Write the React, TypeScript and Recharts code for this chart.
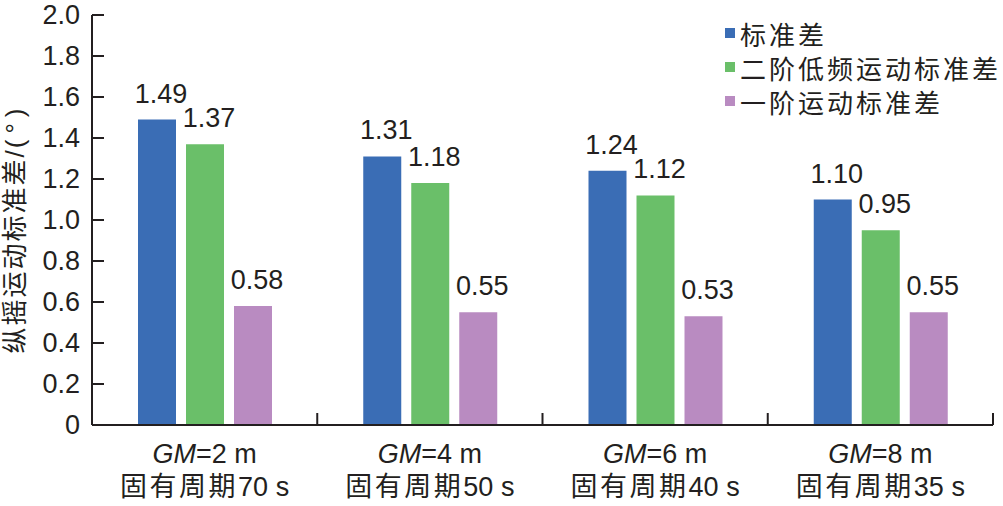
import { BarChart, Bar, XAxis, YAxis, Legend, LabelList } from "recharts";

const GM_VALUES = ["2", "4", "6", "8"];
const PERIODS = ["70", "50", "40", "35"];
const STD_TOTAL = [1.49, 1.31, 1.24, 1.1];
const STD_LOW = [1.37, 1.18, 1.12, 0.95];
const STD_FIRST = [0.58, 0.55, 0.53, 0.55];
const Y_TICKS = [0, 0.2, 0.4, 0.6, 0.8, 1.0, 1.2, 1.4, 1.6, 1.8, 2.0];
const SERIES_NAMES = ["标准差", "二阶低频运动标准差", "一阶运动标准差"];
const Y_LABEL_MAIN = "纵摇运动标准差/";
const Y_LABEL_UNIT = "(°)";

const COLORS = ["#3a6db5", "#6abf69", "#b98bc1"];
const INK = "#231f20";
const FONT = '"Liberation Sans", Arial, "Noto Sans CJK SC", sans-serif';

const W = 1003;
const H = 506;
const MARGIN = { top: 15, right: 10, bottom: 0, left: 0 };
const Y_AXIS_W = 92;
const X_AXIS_H = 81;
// half of one category band, used to put x ticks on the band edges
const HALF_BAND = (W - MARGIN.left - MARGIN.right - Y_AXIS_W) / GM_VALUES.length / 2;

const data = GM_VALUES.map((gm, i) => ({
  key: gm,
  total: STD_TOTAL[i],
  low: STD_LOW[i],
  first: STD_FIRST[i],
}));

function XTick(props: any) {
  const { x, y, payload } = props;
  const i = GM_VALUES.indexOf(String(payload.value));
  return (
    <g>
      <line x1={x + HALF_BAND} x2={x + HALF_BAND} y1={y} y2={y - 12} stroke={INK} strokeWidth={2} />
      <text x={x} y={y + 38} textAnchor="middle" fontSize={27} fill={INK} fontFamily={FONT}>
        <tspan fontStyle="italic">GM</tspan>={GM_VALUES[i]} m
      </text>
      <text x={x} y={y + 71} textAnchor="middle" fontSize={27} fill={INK} fontFamily={FONT}>
        <tspan letterSpacing={2.5}>固有周期</tspan>
        {PERIODS[i]} s
      </text>
    </g>
  );
}

function YTick(props: any) {
  const { x, y, payload } = props;
  const v = Number(payload.value);
  return (
    <g>
      <line x1={x} x2={x + 12} y1={y} y2={y} stroke={INK} strokeWidth={2} />
      <text x={x - 12} y={y} dy="0.35em" textAnchor="end" fontSize={27} fill={INK} fontFamily={FONT}>
        {v === 0 ? "0" : v.toFixed(1)}
      </text>
    </g>
  );
}

function ValueLabel(props: any) {
  const { x, y, width, value } = props;
  return (
    <text
      x={Number(x) + Number(width) / 2 + 4}
      y={Number(y) - 17}
      textAnchor="middle"
      fontSize={27}
      fill={INK}
      fontFamily={FONT}
    >
      {Number(value).toFixed(2)}
    </text>
  );
}

function YLabel() {
  return (
    <text
      transform="translate(15,228) rotate(-90)"
      textAnchor="middle"
      dominantBaseline="central"
      fontSize={26}
      fill={INK}
      fontFamily={FONT}
    >
      <tspan letterSpacing={2}>{Y_LABEL_MAIN}</tspan>
      <tspan letterSpacing={6}>{Y_LABEL_UNIT}</tspan>
    </text>
  );
}

function LegendBox(props: any) {
  const payload = [...(props.payload || [])].sort(
    (a: any, b: any) => SERIES_NAMES.indexOf(a.value) - SERIES_NAMES.indexOf(b.value),
  );
  return (
    <div style={{ fontFamily: FONT, fontSize: 26, letterSpacing: 3, color: INK }}>
      {payload.map((entry: any) => (
        <div key={entry.value} style={{ display: "flex", alignItems: "center", height: 34 }}>
          <span
            style={{ display: "inline-block", width: 10, height: 10, background: entry.color, marginRight: 5 }}
          />
          <span>{entry.value}</span>
        </div>
      ))}
    </div>
  );
}

export default function App() {
  return (
    <div style={{ position: "absolute", left: 0, top: 0, width: W, height: H, background: "#fff" }}>
      <BarChart width={W} height={H} data={data} margin={MARGIN} barGap={10} barSize={38}>
        <XAxis
          dataKey="key"
          height={X_AXIS_H}
          axisLine={{ stroke: INK, strokeWidth: 2 }}
          tickLine={false}
          tickSize={0}
          tickMargin={0}
          tick={<XTick />}
          interval={0}
        />
        <YAxis
          domain={[0, 2]}
          ticks={Y_TICKS}
          interval={0}
          width={Y_AXIS_W}
          axisLine={{ stroke: INK, strokeWidth: 2 }}
          tickLine={false}
          tickSize={0}
          tickMargin={0}
          tick={<YTick />}
          label={YLabel}
        />
        <Legend
          layout="horizontal"
          align="center"
          verticalAlign="middle"
          content={<LegendBox />}
          wrapperStyle={{ top: 16, left: 725, width: 280 }}
        />
        <Bar dataKey="total" name={SERIES_NAMES[0]} fill={COLORS[0]} isAnimationActive={false}>
          <LabelList dataKey="total" content={<ValueLabel />} />
        </Bar>
        <Bar dataKey="low" name={SERIES_NAMES[1]} fill={COLORS[1]} isAnimationActive={false}>
          <LabelList dataKey="low" content={<ValueLabel />} />
        </Bar>
        <Bar dataKey="first" name={SERIES_NAMES[2]} fill={COLORS[2]} isAnimationActive={false}>
          <LabelList dataKey="first" content={<ValueLabel />} />
        </Bar>
      </BarChart>
    </div>
  );
}
